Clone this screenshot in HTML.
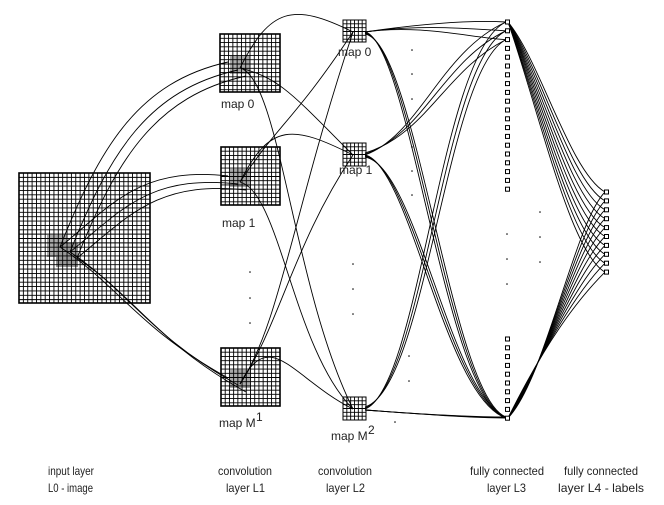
<!DOCTYPE html>
<html><head><meta charset="utf-8"><style>
html,body{margin:0;padding:0;background:#fff}
svg{display:block}
text{font-family:"Liberation Sans",sans-serif;font-size:12px;fill:#222}
</style></head><body>
<svg id="s" width="664" height="505" viewBox="0 0 664 505" xmlns="http://www.w3.org/2000/svg">
<g id="grids"></g>
<g id="lines" fill="none" stroke="#000" stroke-width="0.9"></g>
<g id="units"></g>
<g id="dots" fill="#000"></g>
<text x="221" y="108">map 0</text>
<text x="222" y="227">map 1</text>
<text x="219" y="427">map M</text><text x="256" y="421" font-size="8">1</text>
<text x="338" y="56">map 0</text>
<text x="339" y="174">map 1</text>
<text x="331" y="440">map M</text><text x="368" y="434" font-size="8">2</text>
<text x="48" y="475" textLength="46" lengthAdjust="spacingAndGlyphs">input layer</text>
<text x="48" y="492" textLength="45" lengthAdjust="spacingAndGlyphs">L0 - image</text>
<text x="218" y="475" textLength="54" lengthAdjust="spacingAndGlyphs">convolution</text>
<text x="226" y="492" textLength="39" lengthAdjust="spacingAndGlyphs">layer L1</text>
<text x="318" y="475" textLength="54" lengthAdjust="spacingAndGlyphs">convolution</text>
<text x="326" y="492" textLength="39" lengthAdjust="spacingAndGlyphs">layer L2</text>
<text x="470" y="475" textLength="74" lengthAdjust="spacingAndGlyphs">fully connected</text>
<text x="487" y="492" textLength="39" lengthAdjust="spacingAndGlyphs">layer L3</text>
<text x="564" y="475" textLength="74" lengthAdjust="spacingAndGlyphs">fully connected</text>
<text x="558" y="492" textLength="86" lengthAdjust="spacingAndGlyphs">layer L4 - labels</text>
</svg>
<script>
(function(){
var NS="http://www.w3.org/2000/svg";
function el(p,t,a){var e=document.createElementNS(NS,t);for(var k in a)e.setAttribute(k,a[k]);document.getElementById(p).appendChild(e);return e;}
function grid(x,y,w,h,n,bw){
  var d="";var c=w/n;
  for(var i=1;i<n;i++){d+="M"+(x+i*c)+" "+y+"V"+(y+h)+"M"+x+" "+(y+i*c)+"H"+(x+w);}
  el("grids","path",{d:d,stroke:"#000","stroke-width":0.9,fill:"none"});
  el("grids","rect",{x:x,y:y,width:w,height:h,fill:"none",stroke:"#000","stroke-width":bw});
}
el("grids","rect",{x:47,y:235,width:20,height:22,fill:"#aaa"});
el("grids","rect",{x:56,y:243,width:22,height:24,fill:"#999"});
[34,147,348].forEach(function(y){el("grids","rect",{x:230,y:y+22,width:20,height:18,fill:"#aaa"});});
grid(19,173,131,130,30,1.6);
grid(220,34,60,58,14,1.6);
grid(221,147,59,58,14,1.6);
grid(221,348,59,58,14,1.6);
grid(343,20,23,22,6,1);
grid(343,143,23,23,6,1);
grid(343,397,23,23,6,1);
var tops=[],bots=[],i,k;
for(i=0;i<20;i++)tops.push(22+i*8.8);
for(i=0;i<10;i++)bots.push(339+i*8.8);
tops.concat(bots).forEach(function(y){el("units","rect",{x:505.5,y:y-2,width:4,height:4,fill:"#fff",stroke:"#000","stroke-width":1});});
var l4=[];for(i=0;i<10;i++)l4.push(192+i*8.9);
l4.forEach(function(y){el("units","rect",{x:604.5,y:y-2,width:4,height:4,fill:"#fff",stroke:"#000","stroke-width":1});});
function P(d){el("lines","path",{d:d});}
var ip=[[60,247],[70,252],[77,258]];
var m1=[[240,68],[240,182],[240,384]];
var tg=[[[228,62],[238,70],[246,76]],[[228,176],[238,184],[246,190]],[[228,378],[238,385],[246,392]]];
ip.forEach(function(p,i){
  tg.forEach(function(t,j){
    var q=t[i];
    if(j==0)P("M"+p[0]+" "+p[1]+"C"+(p[0]+40)+" "+(p[1]-100)+","+(q[0]-90)+" "+(q[1]+20)+","+q[0]+" "+q[1]);
    else if(j==1)P("M"+p[0]+" "+p[1]+"C"+(p[0]+50)+" "+(p[1]-40)+","+(q[0]-90)+" "+(q[1]-10)+","+q[0]+" "+q[1]);
    else P("M"+p[0]+" "+p[1]+"C"+(p[0]+60)+" "+(p[1]+40)+","+(q[0]-90)+" "+(q[1]-50)+","+q[0]+" "+q[1]);
  });
});
var m2=[[353,32],[353,155],[353,409]];
m1.forEach(function(a,i){m2.forEach(function(b,j){
  var d;
  if(i==j)d="M"+a[0]+" "+a[1]+"C"+(a[0]+30)+" "+(a[1]-60)+","+(b[0]-60)+" "+(b[1]-30)+","+b[0]+" "+b[1];
  else if(j<i)d="M"+a[0]+" "+a[1]+"C"+(a[0]+40)+" "+(a[1]-60)+","+(b[0]-60)+" "+(b[1]+(i-j)*90)+","+b[0]+" "+b[1];
  else d="M"+a[0]+" "+a[1]+"C"+(a[0]+40)+" "+(a[1]+10)+","+(b[0]-60)+" "+(b[1]-(j-i)*60)+","+b[0]+" "+b[1];
  P(d);
});});
var b3=418;
m2.forEach(function(a,i){
  var s=[a[0]+12,a[1]];
  for(k=0;k<3;k++){
    var t=[506,22+k*8.8];
    if(i==0)P("M"+s[0]+" "+s[1]+"C420 "+(s[1]-8)+",470 "+(t[1]-2)+","+t[0]+" "+t[1]);
    else P("M"+s[0]+" "+(s[1]-k)+"C"+(420+k*3)+" "+(s[1]-20)+","+(440+k*3)+" "+(t[1]+30)+","+t[0]+" "+t[1]);
  }
  for(k=0;k<3;k++){
    var u=[506,b3-k*0.5];
    if(i==2)P("M"+s[0]+" "+(s[1]+1)+"C420 "+(s[1]+5)+",470 "+u[1]+","+u[0]+" "+u[1]);
    else P("M"+s[0]+" "+(s[1]+k)+"C"+(410+k*3)+" "+(s[1]+10)+","+(445+k*3)+" "+(u[1]-20)+","+u[0]+" "+u[1]);
  }
});
l4.forEach(function(y,i){
  P("M508 22C540 "+(60+i*6)+",570 "+(y-20)+",605 "+y);
  P("M508 "+b3+"C545 "+(380-i*4)+",575 "+(y+30)+",605 "+y);
});
[[250,272],[250,298],[250,323],[353,264],[353,289],[353,314],[412,50],[412,74],[412,99],[412,147],[412,171],[412,195],[409,356],[409,381],[507,234],[507,259],[507,284],[540,212],[540,237],[540,262],[395,422]].forEach(function(c){el("dots","circle",{cx:c[0],cy:c[1],r:0.8});});
})();
</script>
</body></html>
